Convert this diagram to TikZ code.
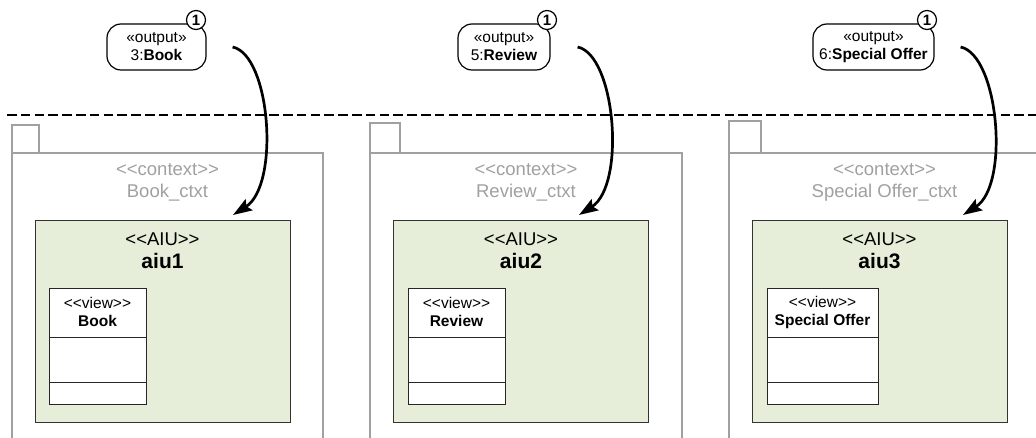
\documentclass[tikz,border=0pt]{standalone}
\usepackage{fontspec}
\setmainfont{Liberation Sans}
\usetikzlibrary{arrows.meta, positioning, calc}

\definecolor{aiugreen}{RGB}{230,238,217}
\definecolor{ctxtgray}{RGB}{160,160,160}
\newcommand{\stname}[1]{<\kern0pt<#1>\kern0pt>}

\tikzset{
  pkgline/.style={draw=ctxtgray, line width=1.1pt},
  ctxtlabel/.style={text=ctxtgray, align=center, font=\fontsize{18.5}{22}\selectfont},
  aiubox/.style={draw=black!80, fill=aiugreen, line width=1.3pt, minimum width=255, minimum height=202, anchor=north west, inner sep=0},
  aiulabel/.style={align=center, font=\fontsize{18.5}{23}\selectfont},
  viewbox/.style={draw=black!85, fill=white, line width=1pt, minimum height=116, anchor=north west, inner sep=0},
  viewlabel/.style={align=center, font=\fontsize{15.5}{18}\selectfont},
  pinbox/.style={draw, fill=white, rounded corners=14pt, line width=1.2pt, minimum height=46, inner sep=0, align=center, font=\fontsize{15.5}{18}\selectfont},
  pinnum/.style={circle, draw, fill=white, line width=1.2pt, minimum size=19, inner sep=0, font=\fontsize{15}{15}\selectfont\bfseries},
  flow/.style={-{Stealth[length=19pt,width=13pt,inset=3pt]}, line width=2.7pt},
}

\begin{document}
\begin{tikzpicture}[x=1pt, y=-1pt]
  \useasboundingbox (0,0) rectangle (1036,438);

  \draw[line width=2pt, dash pattern=on 9.5pt off 4.3pt] (7,115) -- (1036,115);

  % context packages
  \draw[pkgline] (12,125) rectangle (39,153);
  \draw[pkgline] (12,440) -- (12,153) -- (323,153) -- (323,440);
  \node[ctxtlabel] (ctxt1) at (167.5,182) {\stname{context}\\Book\_ctxt};

  \draw[pkgline] (370,123) rectangle (400,153);
  \draw[pkgline] (370,440) -- (370,153) -- (682,153) -- (682,440);
  \node[ctxtlabel] (ctxt2) at (526,182) {\stname{context}\\Review\_ctxt};

  \draw[pkgline] (729,121) rectangle (761,153);
  \draw[pkgline] (729,440) -- (729,153) -- (1040,153) -- (1040,440);
  \node[ctxtlabel] (ctxt3) at (884.5,182) {\stname{context}\\Special Offer\_ctxt};

  % AIUs
  \node[aiubox] (aiu1) at (35,220) {};
  \node[aiulabel] (aiu1lbl) at (162.5,250.5) {\stname{AIU}\\\textbf{\fontsize{21}{23}\selectfont aiu1}};
  \node[aiubox] (aiu2) at (393,220) {};
  \node[aiulabel] (aiu2lbl) at (521,250.5) {\stname{AIU}\\\textbf{\fontsize{21}{23}\selectfont aiu2}};
  \node[aiubox] (aiu3) at (752,220) {};
  \node[aiulabel] (aiu3lbl) at (879.5,250.5) {\stname{AIU}\\\textbf{\fontsize{21}{23}\selectfont aiu3}};

  % views
  \node[viewbox, minimum width=97] (view1) at (49,288) {};
  \draw[black!85, line width=1pt] (49,337) -- (146,337) (49,382) -- (146,382);
  \node[viewlabel] (view1lbl) at (97.5,312) {\stname{view}\\\textbf{Book}};

  \node[viewbox, minimum width=97] (view2) at (408,288) {};
  \draw[black!85, line width=1pt] (408,337) -- (505,337) (408,382) -- (505,382);
  \node[viewlabel] (view2lbl) at (456.5,312) {\stname{view}\\\textbf{Review}};

  \node[viewbox, minimum width=111] (view3) at (767,288) {};
  \draw[black!85, line width=1pt] (767,337) -- (878,337) (767,382) -- (878,382);
  \node[viewlabel] (view3lbl) at (822.5,312) {\stname{view}\\\textbf{Special Offer}};

  % output pins
  \node[pinbox, minimum width=99] (pin1) at (156.5,47) {«output»\\3:\textbf{Book}};
  \node[pinnum] (num1) at (196,20) {1};
  \node[pinbox, minimum width=92] (pin2) at (504,47) {«output»\\5:\textbf{Review}};
  \node[pinnum] (num2) at (547,20) {1};
  \node[pinbox, minimum width=121] (pin3) at (873.5,47) {«output»\\6:\textbf{Special Offer}};
  \node[pinnum] (num3) at (927,20) {1};

  \coordinate (out1) at ([xshift=26]pin1.east);
  \coordinate (out2) at ([xshift=27]pin2.east);
  \coordinate (out3) at ([xshift=26]pin3.east);
  \coordinate (in1) at (233,215);
  \coordinate (in2) at (579,215);
  \coordinate (in3) at (963,215);

  \draw[flow] (out1) .. controls +(38,8) and +(47,-30) .. (in1);
  \draw[flow] (out2) .. controls +(38,8) and +(47,-30) .. (in2);
  \draw[flow] (out3) .. controls +(38,8) and +(47,-30) .. (in3);
\end{tikzpicture}
\end{document}
